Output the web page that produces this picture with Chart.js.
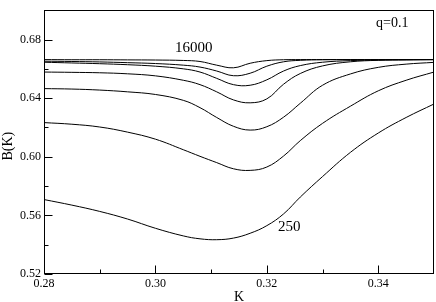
<!DOCTYPE html>
<html>
<head>
<meta charset="utf-8">
<script src="https://cdn.jsdelivr.net/npm/chart.js@4"></script>
<style>
  html, body { margin: 0; padding: 0; background: #fff; }
  #wrap { width: 436px; height: 302px; }
</style>
</head>
<body>
<div id="wrap"><canvas id="bk"></canvas></div>
<script>
// K grid shared by every curve
const kValues = [0.28, 0.285, 0.29, 0.295, 0.30, 0.305, 0.308, 0.311, 0.314, 0.317, 0.32, 0.323, 0.326, 0.33, 0.335, 0.34, 0.345, 0.35];

// B(K), one list per system size
const b250   = [0.5708, 0.5670, 0.5627, 0.5575, 0.5512, 0.5460, 0.5440, 0.5434, 0.5445, 0.5478, 0.5530, 0.5610, 0.5725, 0.5865, 0.6030, 0.6162, 0.6268, 0.6360];
const b500   = [0.6233, 0.6222, 0.6203, 0.6168, 0.6120, 0.6048, 0.6003, 0.5960, 0.5918, 0.5907, 0.5930, 0.6005, 0.6110, 0.6228, 0.6345, 0.6450, 0.6522, 0.6578];
const b1000  = [0.6465, 0.6462, 0.6455, 0.6443, 0.6425, 0.6385, 0.6335, 0.6268, 0.6208, 0.6182, 0.6205, 0.6270, 0.6365, 0.6488, 0.6565, 0.6610, 0.6632, 0.6644];
const b2000  = [0.6578, 0.6576, 0.6573, 0.6566, 0.6552, 0.6522, 0.6492, 0.6443, 0.6388, 0.6368, 0.6395, 0.6495, 0.6568, 0.6620, 0.6648, 0.6658, 0.6661, 0.6663];
const b4000  = [0.6645, 0.6640, 0.6635, 0.6628, 0.6618, 0.6600, 0.6578, 0.6535, 0.6492, 0.6488, 0.6525, 0.6585, 0.6622, 0.6645, 0.6656, 0.6660, 0.6662, 0.6663];
const b8000  = [0.6652, 0.6650, 0.6647, 0.6642, 0.6636, 0.6625, 0.6612, 0.6585, 0.6553, 0.6570, 0.6618, 0.6648, 0.6658, 0.6662, 0.6663, 0.6663, 0.6663, 0.6663];
const b16000 = [0.6663, 0.6662, 0.6662, 0.6661, 0.6660, 0.6657, 0.6650, 0.6625, 0.6607, 0.6638, 0.6656, 0.6662, 0.6663, 0.6663, 0.6663, 0.6663, 0.6663, 0.6663];

const xTicks = [0.28, 0.30, 0.32, 0.34];
const xMinor = [0.29, 0.31, 0.33];
const yTicks = [0.52, 0.56, 0.60, 0.64, 0.68];
const yMinor = [0.54, 0.58, 0.62, 0.66];

const serif = "'Liberation Serif', 'Times New Roman', serif";

function series(label, vals) {
  return {
    label: label,
    data: kValues.map((k, i) => ({x: k, y: vals[i]})),
    borderColor: '#000',
    borderWidth: 1,
    pointRadius: 0,
    fill: false,
    tension: 0.4
  };
}

// frame, inward ticks, titles and curve labels (xmgrace look)
const gracePlugin = {
  id: 'grace',
  afterDraw(chart) {
    const ctx = chart.ctx;
    const a = chart.chartArea;
    const xs = chart.scales.x, ys = chart.scales.y;
    ctx.save();
    ctx.strokeStyle = '#000';
    ctx.lineWidth = 1;
    ctx.strokeRect(Math.round(a.left) + 0.5, Math.round(a.top) + 0.5,
                   Math.round(a.right - a.left) - 1, Math.round(a.bottom - a.top) - 1);
    ctx.beginPath();
    const bot = Math.round(a.bottom) - 0.5;
    const lft = Math.round(a.left) + 0.5;
    xTicks.forEach(v => { const p = Math.round(xs.getPixelForValue(v)) + 0.5; ctx.moveTo(p, bot); ctx.lineTo(p, bot - 8); });
    xMinor.forEach(v => { const p = Math.round(xs.getPixelForValue(v)) + 0.5; ctx.moveTo(p, bot); ctx.lineTo(p, bot - 4); });
    yTicks.forEach(v => { const p = Math.round(ys.getPixelForValue(v)) + 0.5; ctx.moveTo(lft, p); ctx.lineTo(lft + 8, p); });
    yMinor.forEach(v => { const p = Math.round(ys.getPixelForValue(v)) + 0.5; ctx.moveTo(lft, p); ctx.lineTo(lft + 4, p); });
    ctx.stroke();

    ctx.fillStyle = '#000';
    ctx.textBaseline = 'alphabetic';
    ctx.textAlign = 'center';
    ctx.font = '14px ' + serif;
    ctx.fillText('K', (a.left + a.right) / 2, 301);
    ctx.save();
    ctx.translate(12, (a.top + a.bottom) / 2 + 4);
    ctx.rotate(-Math.PI / 2);
    ctx.fillText('B(K)', 0, 0);
    ctx.restore();

    ctx.textAlign = 'left';
    ctx.font = '15px ' + serif;
    ctx.fillText('16000', 175, 52);
    ctx.fillText('250', 278, 231);
    ctx.font = '14px ' + serif;
    ctx.fillText('q=0.1', 376, 27);
    ctx.restore();
  }
};

let bk = new Chart(document.getElementById('bk'), {
  type: 'line',
  data: {
    datasets: [
      series('250', b250),
      series('500', b500),
      series('1000', b1000),
      series('2000', b2000),
      series('4000', b4000),
      series('8000', b8000),
      series('16000', b16000)
    ]
  },
  options: {
    responsive: true,
    maintainAspectRatio: false,
    animation: false,
    layout: { padding: { top: 1, right: 2, left: 0, bottom: 0 } },
    plugins: {
      legend: { display: false },
      tooltip: { enabled: false }
    },
    scales: {
      x: {
        type: 'linear',
        min: 0.28,
        max: 0.35,
        grid: { display: false, drawTicks: false },
        border: { display: false },
        afterBuildTicks: (s) => { s.ticks = xTicks.map(v => ({value: v})); },
        afterFit: (s) => { s.height = 28; },
        ticks: {
          color: '#000',
          padding: 3,
          maxRotation: 0,
          font: { family: serif, size: 12 },
          callback: (v) => v.toFixed(2)
        }
      },
      y: {
        min: 0.52,
        max: 0.70,
        grid: { display: false, drawTicks: false },
        border: { display: false },
        afterBuildTicks: (s) => { s.ticks = yTicks.map(v => ({value: v})); },
        afterFit: (s) => { s.width = 44; },
        ticks: {
          color: '#000',
          padding: 3,
          font: { family: serif, size: 12 },
          callback: (v) => v.toFixed(2)
        }
      }
    }
  },
  plugins: [gracePlugin]
});
</script>
</body>
</html>
